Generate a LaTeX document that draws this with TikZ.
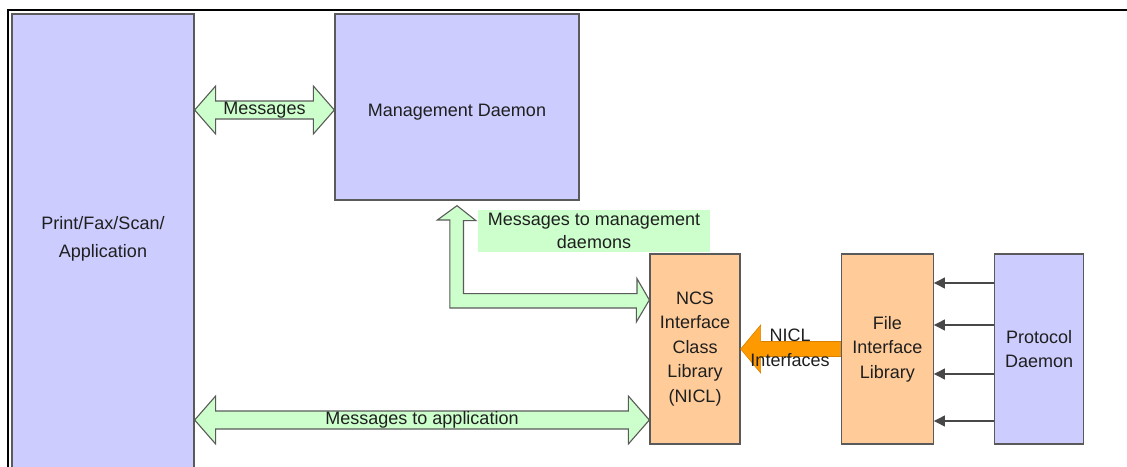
\documentclass[tikz,border=0pt]{standalone}
\usepackage{fontspec}
\setmainfont{Liberation Sans}
\usetikzlibrary{positioning,calc,arrows.meta}

\definecolor{lavender}{HTML}{CCCCFF}
\definecolor{peach}{HTML}{FFCC99}
\definecolor{mint}{HTML}{CCFFCC}
\definecolor{niclorange}{HTML}{FF9900}
\definecolor{edge}{HTML}{5A5A5A}

\tikzset{
  box/.style={draw=edge, line width=1.3pt, inner sep=0pt, align=center,
    text=black!88, font=\fontsize{18}{24.5}\selectfont},
  daemon/.style={box, fill=lavender},
  library/.style={box, fill=peach},
  blockarrow/.style={draw=edge, line width=1.1pt, fill=mint, line join=miter},
  msgtext/.style={inner sep=0pt, align=center, text=black!88,
    font=\fontsize{18}{23.5}\selectfont},
  feed/.style={draw=edge!80!black, line width=1.3pt,
    -{Triangle[length=11pt,width=11pt]}},
}

% double block arrow between two tips
\newcommand{\msgarrow}[2]{%
  \draw[blockarrow] (#1) -- ($(#1)+(21,-24)$) -- ($(#1)+(21,-9)$)
    -- ($(#2)+(-21,-9)$) -- ($(#2)+(-21,-24)$) -- (#2)
    -- ($(#2)+(-21,24)$) -- ($(#2)+(-21,9)$)
    -- ($(#1)+(21,9)$) -- ($(#1)+(21,24)$) -- cycle;}

\begin{document}
\begin{tikzpicture}[x=1pt,y=-1pt]
	\useasboundingbox (0,0) rectangle (1127,466);
	\clip (0,0) rectangle (1127,466);

	%The frame
	\draw[line width=2pt] (8,470) -- (8,10) -- (1130,10);

	%The boxes
	\node[daemon, minimum width=182, minimum height=486,
	  label={[msgtext, font=\fontsize{18}{28}\selectfont, yshift=18]center:Print/Fax/Scan/\\Application}]
	  (app) at (103,257) {};
	\node[daemon, minimum width=244, minimum height=186, text height=22pt] (mgmt) at (457,107)
	  {Management Daemon};
	\node[library, minimum width=90, minimum height=190] (ncs) at (695,349)
	  {NCS\\Interface\\Class\\Library\\(NICL)};
	\node[library, minimum width=92, minimum height=190, right=100pt of ncs] (fil)
	  {File\\Interface\\Library};
	\node[daemon, minimum width=89, minimum height=190, right=60pt of fil] (proto)
	  {Protocol\\Daemon};

	%Messages
	\coordinate (msgR) at ($(mgmt.west)+(0,3)$);
	\coordinate (msgL) at (app.east |- msgR);
	\msgarrow{msgL}{msgR}
	\node[msgtext] (msg) at ($(msgL)!0.5!(msgR)$) {Messages};

	%Messages to application
	\coordinate (apR) at ($(ncs.west)+(0,71)$);
	\coordinate (apL) at (app.east |- apR);
	\msgarrow{apL}{apR}
	\node[msgtext] (msgap) at ($(apL)!0.5!(apR)$) {Messages to application};

	%Messages to management daemons
	\node[msgtext, fill=mint, minimum width=232, minimum height=42] (mdlabel) at (594,231)
	  {Messages to management\\daemons};
	\coordinate (mdtip) at ($(mgmt.south)+(0,5)$);
	\coordinate (nctip) at ($(ncs.west)+(0,-49)$);
	\draw[blockarrow] (mdtip) -- ++(19,15) -- ++(-12.5,0) -- ++(0,73) -- ++(173.5,0)
	  -- ++(0,-15) -- (nctip) -- ++(-13,22) -- ++(0,-14) -- ++(-186.5,0)
	  -- ++(0,-88) -- ++(-12.5,0) -- cycle;

	%NICL interfaces
	\draw[fill=niclorange, draw=niclorange!85!black, line width=0.6pt] (ncs.east)
	  -- ++(20,-24) -- ++(0,16.5) -- (fil.west |- 0,341.5) -- (fil.west |- 0,356.5)
	  -- ++(-80,0) -- ++(0,16.5) -- cycle;
	\node[msgtext, font=\fontsize{18}{25}\selectfont] (nicl) at (790,348) {NICL\\Interfaces};

	%Protocol daemon feeds
	\foreach \y in {283,325,374,421}
	  \draw[feed] (proto.west |- 0,\y) -- (fil.east |- 0,\y);

\end{tikzpicture}
\end{document}
